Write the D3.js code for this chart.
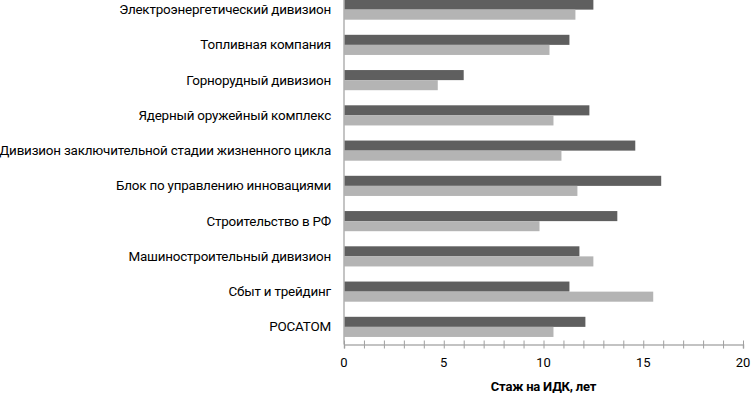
<!DOCTYPE html>
<html><head><meta charset="utf-8">
<script src="https://cdn.jsdelivr.net/npm/d3@7"></script>
<style>body{margin:0;background:#fff}svg{display:block}</style>
</head><body>
<svg id="c" width="751" height="393"></svg>
<script>
const categories = ["Электроэнергетический дивизион","Топливная компания","Горнорудный дивизион","Ядерный оружейный комплекс","Дивизион заключительной стадии жизненного цикла","Блок по управлению инновациями","Строительство в РФ","Машиностроительный дивизион","Сбыт и трейдинг","РОСАТОМ"];
const seriesDark = [12.5,11.3,6.0,12.3,14.6,15.9,13.7,11.8,11.3,12.1];
const seriesLight = [11.6,10.3,4.7,10.5,10.9,11.7,9.8,12.5,15.5,10.5];
const xTicks = [0,5,10,15,20];
const xTitle = "Стаж на ИДК, лет";

(function(){
const svg = d3.select("#c");
const pl = 344, pr = 743, pt = -8, pb = 344.5;
const x = d3.scaleLinear().domain([0,20]).range([pl,pr]);
const y = d3.scaleBand().domain(categories).range([pt,pb]).paddingInner(0).paddingOuter(0);
const sub = d3.scaleBand().domain(["d","l"]).range([0,y.bandwidth()]).paddingInner(0).paddingOuter(0.75);
const font = "Roboto, 'Open Sans', sans-serif";

const g = svg.append("g");
categories.forEach((c,i)=>{
  g.append("rect").attr("x",x(0)).attr("y",y(c)+sub("d")).attr("width",x(seriesDark[i])-x(0)).attr("height",sub.bandwidth()).attr("fill","#5f5f5f");
  g.append("rect").attr("x",x(0)).attr("y",y(c)+sub("l")).attr("width",x(seriesLight[i])-x(0)).attr("height",sub.bandwidth()).attr("fill","#b4b4b4");
});

svg.append("line").attr("x1",pl).attr("x2",pl).attr("y1",0).attr("y2",pb).attr("stroke","#b0b0b0").attr("stroke-width",1.5);
const labels = svg.append("g").selectAll("text").data(categories).join("text")
  .attr("x",331).attr("y",d=>y(d)+y.bandwidth()/2).attr("text-anchor","end").attr("dominant-baseline","central")
  .attr("font-family",font).attr("font-size",12).attr("fill","#000").attr("letter-spacing","-0.2").text(d=>d);
let maxW = 0; labels.each(function(){maxW=Math.max(maxW,this.getComputedTextLength());});
const fs = 12*331/maxW;
labels.attr("font-size",fs);

const ax = svg.append("g").attr("transform",`translate(0,${pb})`)
  .call(d3.axisBottom(x).tickValues(d3.range(0,21,1)).tickSize(4).tickFormat(""));
ax.select(".domain").attr("stroke","#b0b0b0").attr("stroke-width",1.5);
ax.selectAll(".tick line").attr("stroke","#a0a0a0").attr("y1",-4);
svg.append("g").selectAll("text").data(xTicks).join("text")
  .attr("x",d=>x(d)).attr("y",362).attr("text-anchor","middle").attr("dominant-baseline","central")
  .attr("font-family",font).attr("font-size",13).attr("fill","#000").text(d=>d);
svg.append("text").attr("x",(pl+pr)/2).attr("y",386).attr("text-anchor","middle").attr("dominant-baseline","central")
  .attr("font-family",font).attr("font-size",13).attr("font-weight","bold").attr("fill","#000").attr("letter-spacing","-0.2").text(xTitle);
})();
</script>
</body></html>
